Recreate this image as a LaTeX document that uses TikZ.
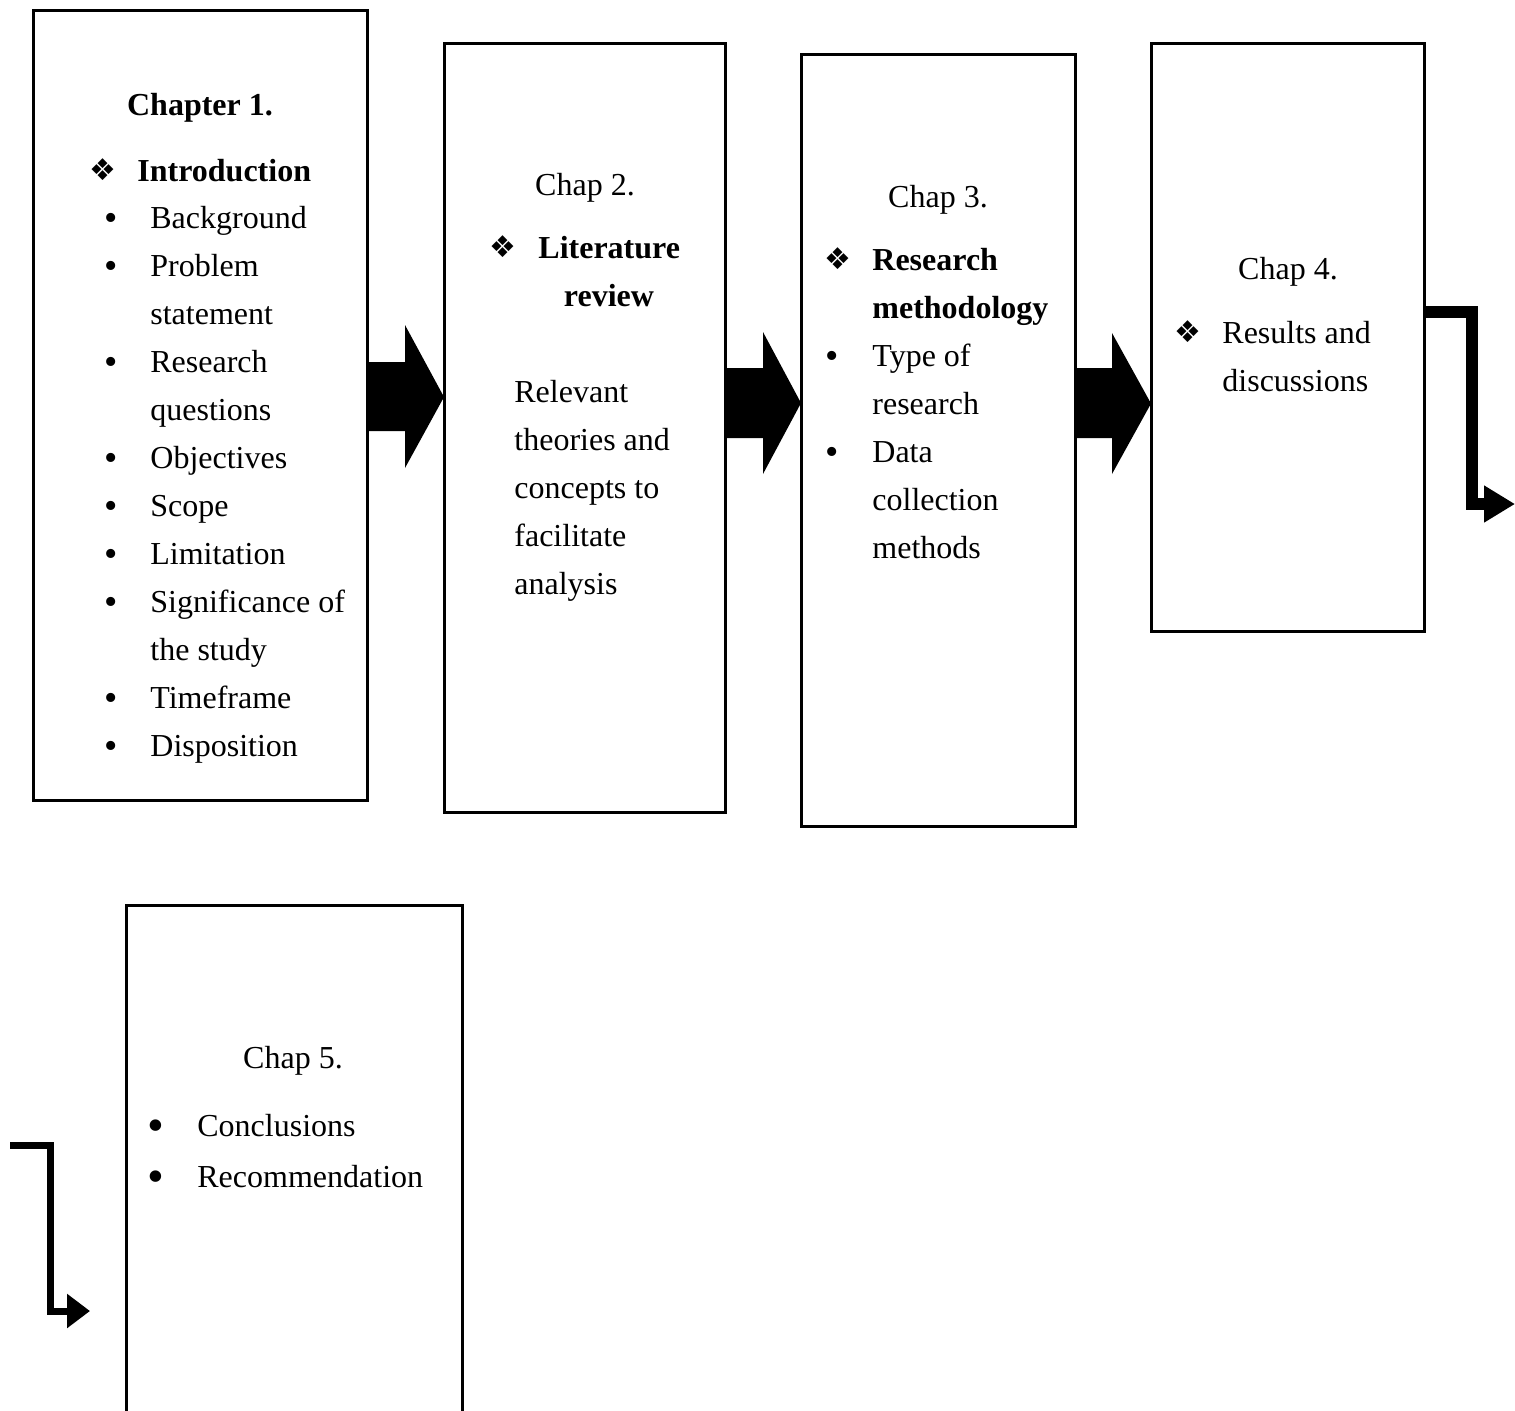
\documentclass[tikz,border=0pt]{standalone}
\usepackage{fontspec}
\setmainfont{Liberation Serif}
\newfontfamily\dejavu{DejaVu Sans}
\usetikzlibrary{arrows.meta}
\begin{document}
\begin{tikzpicture}[x=0.5pt,y=-0.5pt,
  box/.style={draw,line width=1.5pt,inner sep=0pt,outer sep=0pt},
  t/.style={anchor=base west,inner sep=0pt,font=\fontsize{16}{19}\selectfont},
  tc/.style={anchor=base,inner sep=0pt,font=\fontsize{16}{19}\selectfont},
  tb/.style={anchor=base west,inner sep=0pt,font=\fontsize{16}{19}\selectfont\bfseries},
  tbc/.style={anchor=base,inner sep=0pt,font=\fontsize{16}{19}\selectfont\bfseries},
  dia/.style={anchor=center,inner sep=0pt,font=\dejavu\fontsize{15}{17}\selectfont},
  bul/.style={anchor=center,inner sep=0pt,font=\fontsize{19}{21}\selectfont},
  bulbig/.style={anchor=center,inner sep=0pt,font=\fontsize{24}{26}\selectfont},
  elbow/.style={line join=miter,line cap=butt}]
\clip (0,0) rectangle (1515,1410);
% boxes
\node[box,minimum width=167pt,minimum height=395pt] (b1) at (200,405) {};
\node[box,minimum width=140.5pt,minimum height=384.5pt] (b2) at (584.5,427.5) {};
\node[box,minimum width=137pt,minimum height=386pt] (b3) at (938,440) {};
\node[box,minimum width=136.5pt,minimum height=294pt] (b4) at (1287.5,337) {};
\node[box,minimum width=168pt,minimum height=257.5pt] (b5) at (294,1162.5) {};
% block arrows
\fill (b1.east |- 0,362) -- (405,362) -- (405,325) -- (b2.west |- 0,397) -- (405,468) -- (405,431) -- (b1.east |- 0,431) -- cycle;
\fill (b2.east |- 0,368) -- (763,368) -- (763,332) -- (b3.west |- 0,403) -- (763,474) -- (763,438) -- (b2.east |- 0,438) -- cycle;
\fill (b3.east |- 0,368) -- (1112,368) -- (1112,333) -- (b4.west |- 0,403.5) -- (1112,474) -- (1112,438) -- (b3.east |- 0,438) -- cycle;
% elbow arrows
\coordinate (e4) at (1515,504);
\draw[elbow,line width=6pt,-{Triangle[length=15.5pt,width=17.5pt]}] (b4.east |- 0,312) -- (1472,312) -- (1472,504) -- (e4);
\coordinate (s5) at (10,1145);
\coordinate (e5) at (90,1311);
\draw[elbow,line width=3.5pt,-{Triangle[length=11.5pt,width=16.5pt]}] (s5) -- (50,1145) -- (50,1311) -- (e5);
% box 1 text
\node[tbc] (c1) at (200,115) {Chapter 1.};
\node[dia] (d1) at (103,170) {❖};
\node[tb] (h1) at (137,181) {Introduction};
\node[bul] (p1a) at (111,222) {•};
\node[t] (l1a) at (150,228) {Background};
\node[bul] (p1b) at (111,270) {•};
\node[t] (l1b) at (150,276) {Problem};
\node[t] (l1c) at (150,324) {statement};
\node[bul] (p1c) at (111,366) {•};
\node[t] (l1d) at (150,372) {Research};
\node[t] (l1e) at (150,420) {questions};
\node[bul] (p1d) at (111,462) {•};
\node[t] (l1f) at (150,468) {Objectives};
\node[bul] (p1e) at (111,510) {•};
\node[t] (l1g) at (150,516) {Scope};
\node[bul] (p1f) at (111,558) {•};
\node[t] (l1h) at (150,564) {Limitation};
\node[bul] (p1g) at (111,606) {•};
\node[t] (l1i) at (150,612) {Significance of};
\node[t] (l1j) at (150,660) {the study};
\node[bul] (p1h) at (111,702) {•};
\node[t] (l1k) at (150,708) {Timeframe};
\node[bul] (p1i) at (111,750) {•};
\node[t] (l1l) at (150,756) {Disposition};
% box 2 text
\node[tc] (c2) at (585,195) {Chap 2.};
\node[dia] (d2) at (503,247) {❖};
\node[tb] (h2a) at (538,258) {Literature};
\node[tbc] (h2b) at (609,306) {review};
\node[t] (l2a) at (514,402) {Relevant};
\node[t] (l2b) at (514,450) {theories and};
\node[t] (l2c) at (514,498) {concepts to};
\node[t] (l2d) at (514,546) {facilitate};
\node[t] (l2e) at (514,594) {analysis};
% box 3 text
\node[tc] (c3) at (938,207) {Chap 3.};
\node[dia] (d3) at (838,259) {❖};
\node[tb] (h3a) at (872,270) {Research};
\node[tb] (h3b) at (872,318) {methodology};
\node[bul] (p3a) at (832,360) {•};
\node[t] (l3a) at (872,366) {Type of};
\node[t] (l3b) at (872,414) {research};
\node[bul] (p3b) at (832,456) {•};
\node[t] (l3c) at (872,462) {Data};
\node[t] (l3d) at (872,510) {collection};
\node[t] (l3e) at (872,558) {methods};
% box 4 text
\node[tc] (c4) at (1288,279) {Chap 4.};
\node[dia] (d4) at (1188,332) {❖};
\node[t] (l4a) at (1222,343) {Results and};
\node[t] (l4b) at (1222,391) {discussions};
% box 5 text
\node[tc] (c5) at (293,1068) {Chap 5.};
\node[bulbig] (p5a) at (156,1131) {•};
\node[t] (l5a) at (197,1136) {Conclusions};
\node[bulbig] (p5b) at (156,1182) {•};
\node[t] (l5b) at (197,1187) {Recommendation};
\end{tikzpicture}
\end{document}
